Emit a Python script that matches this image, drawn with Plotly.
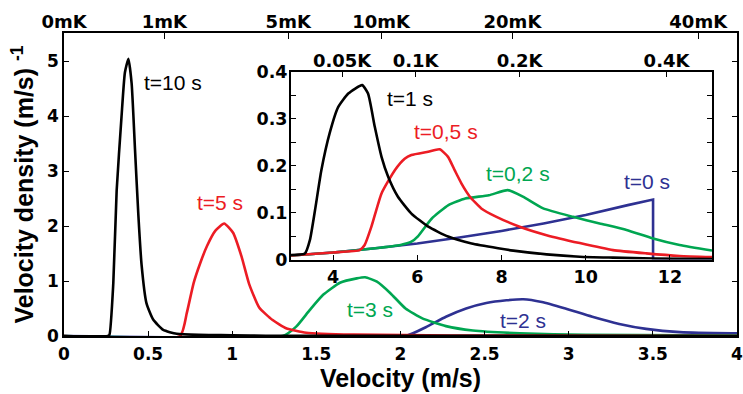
import plotly.graph_objects as go
import numpy as np

# ---------------- data ----------------
# main panel: velocity (m/s) vs velocity density (m/s)^-1
v_t10 = [0, 0.26, 0.27, 0.293, 0.313, 0.342, 0.362, 0.383, 0.402, 0.422, 0.442, 0.461, 0.49, 0.53, 0.59, 0.67, 0.8, 1.0, 1.2, 4.0]
d_t10 = [0, 0, 0.02, 0.96, 2.65, 4.0, 4.8, 5.05, 4.6, 3.4, 2.2, 1.3, 0.6, 0.3, 0.11, 0.04, 0.02, 0.015, 0.005, 0.0]

v_t5 = [0, 0.69, 0.73, 0.77, 0.81, 0.85, 0.90, 0.952, 1.005, 1.055, 1.10, 1.16, 1.24, 1.32, 1.44, 1.72, 2.3, 4.0]
d_t5 = [0, 0, 0.42, 0.96, 1.33, 1.64, 1.92, 2.05, 1.88, 1.45, 0.95, 0.52, 0.29, 0.14, 0.06, 0.025, 0.01, 0.0]

v_t3 = [0, 1.30, 1.38, 1.46, 1.54, 1.64, 1.74, 1.79, 1.86, 1.94, 2.03, 2.13, 2.27, 2.43, 2.71, 3.1, 4.0]
d_t3 = [0, 0, 0.17, 0.47, 0.75, 0.97, 1.05, 1.07, 0.99, 0.78, 0.50, 0.32, 0.18, 0.10, 0.05, 0.02, 0.01]

v_t2 = [0, 2.03, 2.15, 2.27, 2.39, 2.51, 2.63, 2.73, 2.84, 2.98, 3.14, 3.30, 3.46, 3.66, 3.97, 4.0]
d_t2 = [0, 0, 0.16, 0.35, 0.50, 0.60, 0.65, 0.67, 0.62, 0.50, 0.35, 0.22, 0.13, 0.07, 0.05, 0.05]

# inset panel
iv_t1 = [3.0, 3.33, 3.45, 3.57, 3.72, 3.92, 4.12, 4.36, 4.69, 4.83, 4.99, 5.15, 5.31, 5.54, 5.86, 6.26, 6.73, 7.29, 7.92, 8.28, 9.07, 9.86, 10.65, 11.6, 13.0]
id_t1 = [0.0096, 0.013, 0.042, 0.105, 0.19, 0.27, 0.325, 0.354, 0.372, 0.354, 0.283, 0.219, 0.176, 0.134, 0.098, 0.07, 0.049, 0.034, 0.024, 0.019, 0.011, 0.006, 0.004, 0.002, 0.001]

iv_t05 = [3.0, 4.0, 4.63, 4.75, 4.91, 5.15, 5.47, 5.70, 5.86, 6.26, 6.53, 6.73, 6.89, 7.05, 7.25, 7.52, 7.88, 8.43, 9.07, 9.86, 10.65, 11.44, 12.23, 13.0]
id_t05 = [0.0086, 0.015, 0.02, 0.031, 0.07, 0.141, 0.191, 0.215, 0.223, 0.23, 0.235, 0.219, 0.19, 0.162, 0.134, 0.109, 0.091, 0.07, 0.052, 0.035, 0.02, 0.013, 0.0075, 0.005]

iv_t02 = [3.0, 4.0, 5.0, 5.6, 5.86, 6.02, 6.34, 6.74, 7.14, 7.7, 8.15, 8.51, 8.99, 9.7, 10.33, 10.97, 11.6, 12.23, 13.0]
id_t02 = [0.0086, 0.015, 0.024, 0.031, 0.038, 0.05, 0.087, 0.116, 0.13, 0.137, 0.148, 0.134, 0.109, 0.091, 0.077, 0.063, 0.045, 0.031, 0.019]

iv_t0 = [3, 4, 5, 6, 7, 8, 9, 10, 11, 11.6, 11.6, 13]
id_t0 = [0.0086, 0.015, 0.024, 0.034, 0.047, 0.061, 0.077, 0.095, 0.116, 0.128, 0, 0]

# temperature axes (mK) and conversion v = k*sqrt(T)
main_temps_mK = [0, 1, 5, 10, 20, 40]
main_temp_labels = ["0mK", "1mK", "5mK", "10mK", "20mK", "40mK"]
inset_temps_mK = [50, 100, 200, 400]
inset_temp_labels = ["0.05K", "0.1K", "0.2K", "0.4K"]
v_per_sqrt_mK = 0.596

main_xticks = [0, 0.5, 1, 1.5, 2, 2.5, 3, 3.5, 4]
main_xlabels = ["0", "0.5", "1", "1.5", "2", "2.5", "3", "3.5", "4"]
main_yticks = [0, 1, 2, 3, 4, 5]
inset_xticks = [4, 6, 8, 10, 12]
inset_yticks = [0, 0.1, 0.2, 0.3, 0.4]
inset_ylabels = ["0", "0.1", "0.2", "0.3", "0.4"]

labels_main = [("t=10 s", 0.647, 4.61, "black"), ("t=5 s", 0.926, 2.43, "red"),
               ("t=3 s", 1.816, 0.49, "green"), ("t=2 s", 2.73, 0.28, "blue")]
labels_inset = [("t=1 s", 5.82, 0.343, "black"), ("t=0,5 s", 6.69, 0.274, "red"),
                ("t=0,2 s", 8.39, 0.184, "green"), ("t=0 s", 11.45, 0.166, "blue")]

# ---------------- styling ----------------
COL = {"black": "#000000", "red": "#ec1c24", "green": "#00a651", "blue": "#2e3192"}
FONT = "Liberation Sans, Arial, sans-serif"
TFONT = "DejaVu Sans, sans-serif"
LW = 2.6

fig = go.Figure()

for v, d, c in [(v_t2, d_t2, "blue"), (v_t3, d_t3, "green"), (v_t5, d_t5, "red"), (v_t10, d_t10, "black")]:
    fig.add_trace(go.Scatter(x=v, y=d, mode="lines",
                             line=dict(color=COL[c], width=LW, shape="spline", smoothing=0.5),
                             xaxis="x", yaxis="y", showlegend=False, hoverinfo="skip"))

# dummy trace to activate top axis of main panel
fig.add_trace(go.Scatter(x=[0, 4], y=[0, 0], mode="lines", opacity=0, xaxis="x2", yaxis="y",
                         showlegend=False, hoverinfo="skip"))

for v, d, c in [(iv_t0, id_t0, "blue"), (iv_t02, id_t02, "green"), (iv_t05, id_t05, "red"), (iv_t1, id_t1, "black")]:
    shape = dict(shape="linear") if c == "blue" else dict(shape="spline", smoothing=0.5)
    fig.add_trace(go.Scatter(x=v, y=d, mode="lines", line=dict(color=COL[c], width=LW, **shape),
                             xaxis="x3", yaxis="y3", showlegend=False, hoverinfo="skip", cliponaxis=True))

fig.add_trace(go.Scatter(x=[3, 13], y=[0, 0], mode="lines", opacity=0, xaxis="x4", yaxis="y3",
                         showlegend=False, hoverinfo="skip"))

main_tvals = [v_per_sqrt_mK * np.sqrt(t) for t in main_temps_mK]
inset_tvals = [v_per_sqrt_mK * np.sqrt(t) for t in inset_temps_mK]

W, H = 743, 394
L, R, T, B = 64, 6, 33, 58
pw, ph = W - L - R, H - T - B
# inset pixel box
ix0, ix1, iy_top, iy_bot = 291, 712, 72, 259.5
inset_dom_x = [(ix0 - L) / pw, (ix1 - L) / pw]
inset_dom_y = [(H - B - iy_bot) / ph, (H - B - iy_top) / ph]

tickfont = dict(family=TFONT, size=17, color="black", weight="bold")
itickfont = dict(family=TFONT, size=17.5, color="black", weight="bold")
topfont = dict(family=TFONT, size=18, color="black", weight="bold")
titlefont = dict(family=FONT, size=25, color="black", weight="bold")

common = dict(ticks="inside", tickwidth=1, tickcolor="black", automargin=False,
              showgrid=False, zeroline=False, ticklabeloverflow="allow")

fig.update_layout(
    width=W, height=H, margin=dict(l=L, r=R, t=T, b=B, autoexpand=False),
    paper_bgcolor="white", plot_bgcolor="white",
    xaxis=dict(domain=[0, 1], range=[0, 4], tickvals=main_xticks, ticktext=main_xlabels, ticklen=5,
               showline=True, linecolor="black", linewidth=1.5, mirror=True,
               tickfont=tickfont, ticklabelstandoff=2,
               title=dict(text="Velocity (m/s)", font=titlefont, standoff=6), **common),
    xaxis2=dict(overlaying="x", side="top", anchor="y", range=[0, 4], tickvals=main_tvals,
                ticktext=main_temp_labels, ticklen=6, showline=False,
                tickfont=topfont, ticklabelstandoff=0, **common),
    yaxis=dict(domain=[0, 1], range=[0, 5.52], tickvals=main_yticks, ticklen=5,
               showline=True, linecolor="black", linewidth=1.5, mirror="ticks", tickfont=tickfont,
               title=dict(text="Velocity density (m/s) <sup>-1</sup>", font=titlefont, standoff=6), **common),
    xaxis3=dict(domain=inset_dom_x, anchor="y3", range=[3, 13], tickvals=inset_xticks, ticklen=5,
                showline=True, linecolor="black", linewidth=2, mirror=True, tickfont=itickfont, **common),
    xaxis4=dict(overlaying="x3", side="top", anchor="y3", range=[3, 13], tickvals=inset_tvals,
                ticktext=inset_temp_labels, ticklen=5, showline=False, tickfont=topfont, **common),
    yaxis3=dict(domain=inset_dom_y, anchor="x3", range=[0, 0.4], tickvals=inset_yticks, ticktext=inset_ylabels,
                ticklen=5, minor=dict(dtick=0.05, ticks="inside", ticklen=5, tickcolor="black", tickwidth=1),
                showline=True, linecolor="black", linewidth=2, mirror="ticks",
                tickfont=itickfont, ticklabelstandoff=-2, **common),
)

# white background for inset
fig.add_shape(type="rect", xref="paper", yref="paper", x0=inset_dom_x[0], x1=inset_dom_x[1],
              y0=inset_dom_y[0], y1=inset_dom_y[1], fillcolor="white", line=dict(width=0), layer="below")

for txt, x, y, c in labels_main:
    fig.add_annotation(text=txt, x=x, y=y, xref="x", yref="y", showarrow=False,
                       font=dict(family=FONT, size=21, color=COL[c]))
for txt, x, y, c in labels_inset:
    fig.add_annotation(text=txt, x=x, y=y, xref="x3", yref="y3", showarrow=False,
                       font=dict(family=FONT, size=21, color=COL[c]))

fig.write_html("out.html")
